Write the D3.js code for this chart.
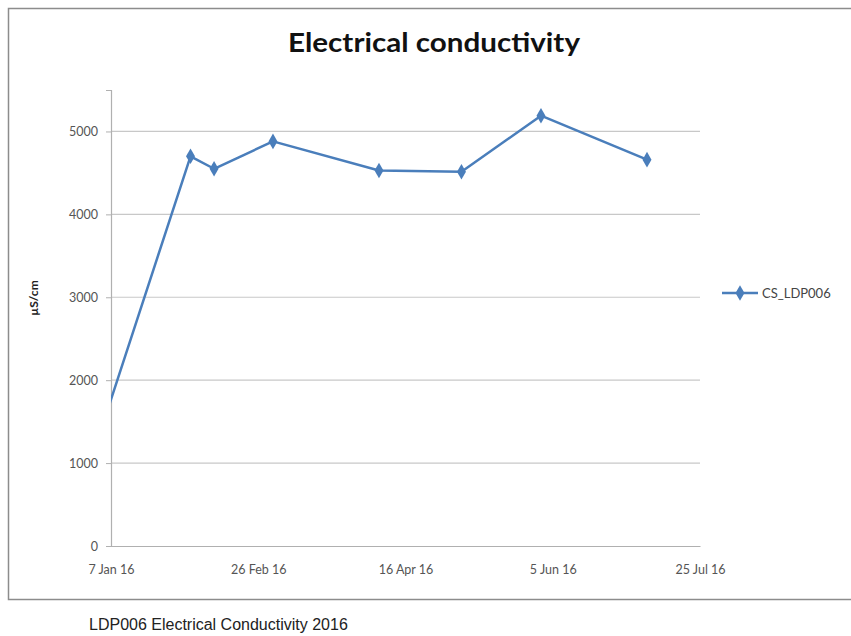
<!DOCTYPE html>
<html>
<head>
<meta charset="utf-8">
<script src="https://cdn.jsdelivr.net/npm/d3@7/dist/d3.min.js"></script>
<style>
  html, body { margin: 0; padding: 0; background: #fff; }
  svg { display: block; }
</style>
</head>
<body>
<svg id="chart" width="851" height="636"></svg>
<script>
// ---- data ----
const seriesName = "CS_LDP006";
const dates = ["2016-01-05", "2016-02-03", "2016-02-11", "2016-03-02", "2016-04-07", "2016-05-05", "2016-06-01", "2016-07-07"];
const values = [1550, 4700, 4550, 4880, 4530, 4515, 5190, 4660];
const xTickDates = ["2016-01-07", "2016-02-26", "2016-04-16", "2016-06-05", "2016-07-25"];
const yTicks = [0, 1000, 2000, 3000, 4000, 5000];
const titleText = "Electrical conductivity";
const yAxisTitle = "µS/cm";
const captionText = "LDP006 Electrical Conductivity 2016";

const FONT = "Lato, 'Open Sans', 'Noto Sans', sans-serif";
const parse = d3.utcParse("%Y-%m-%d");
const data = dates.map((d, i) => ({ date: parse(d), value: values[i] }));

const svg = d3.select("#chart");
const plot = { left: 111, right: 700, top: 90, bottom: 546 };

const x = d3.scaleUtc()
  .domain([parse(xTickDates[0]), parse(xTickDates[xTickDates.length - 1])])
  .range([plot.left, plot.right]);
const y = d3.scaleLinear().domain([0, 5500]).range([plot.bottom, plot.top]);

// frame
svg.append("rect")
  .attr("x", 8.5).attr("y", 8.5).attr("width", 870).attr("height", 591)
  .attr("fill", "#fff").attr("stroke", "#8c8c8c").attr("stroke-width", 1.5);

// title
svg.append("text")
  .attr("x", 434).attr("y", 52)
  .attr("text-anchor", "middle")
  .attr("font-family", FONT)
  .attr("font-weight", "bold").attr("font-size", 26)
  .attr("textLength", 292).attr("lengthAdjust", "spacingAndGlyphs")
  .attr("fill", "#111")
  .text(titleText);

// gridlines
svg.append("g")
  .selectAll("line")
  .data(yTicks.filter(t => t > 0))
  .join("line")
  .attr("x1", plot.left).attr("x2", plot.right)
  .attr("y1", d => y(d)).attr("y2", d => y(d))
  .attr("stroke", "#c8c8c8").attr("stroke-width", 1.2);

// y axis
const yAxis = svg.append("g")
  .attr("transform", `translate(${plot.left},0)`)
  .call(d3.axisLeft(y).tickValues(yTicks).tickSize(5).tickPadding(8).tickFormat(d3.format("d")));
yAxis.select(".domain").attr("stroke", "#b0b0b0").attr("stroke-width", 1.2);
yAxis.selectAll(".tick line").attr("stroke", "#b0b0b0");
yAxis.selectAll(".tick text")
  .attr("fill", "#555").attr("font-size", 12.5)
  .attr("font-family", FONT);

// x axis
const xAxis = svg.append("g")
  .attr("transform", `translate(0,${plot.bottom})`)
  .call(d3.axisBottom(x).tickValues(xTickDates.map(parse)).tickSize(0).tickPadding(19)
    .tickFormat(d3.utcFormat("%-d %b %y")));
xAxis.select(".domain").attr("stroke", "#b0b0b0").attr("stroke-width", 1.2);
xAxis.selectAll(".tick text")
  .attr("fill", "#555").attr("font-size", 12.5)
  .attr("font-family", FONT);

// y axis title
svg.append("text")
  .attr("transform", `translate(38,298) rotate(-90)`)
  .attr("text-anchor", "middle")
  .attr("font-family", FONT)
  .attr("font-weight", "bold").attr("font-size", 12).attr("fill", "#222")
  .text(yAxisTitle);

// clip
svg.append("clipPath").attr("id", "clip")
  .append("rect").attr("x", plot.left).attr("y", plot.top - 10)
  .attr("width", plot.right - plot.left + 10).attr("height", plot.bottom - plot.top + 10);

const lineColor = "#4a7ebb";
const g = svg.append("g").attr("clip-path", "url(#clip)");
g.append("path")
  .datum(data)
  .attr("fill", "none").attr("stroke", lineColor).attr("stroke-width", 2.5)
  .attr("stroke-linejoin", "round")
  .attr("d", d3.line().x(d => x(d.date)).y(d => y(d.value)));

const diamond = d3.symbol().type(d3.symbolDiamond).size(70);
g.selectAll(".pt")
  .data(data)
  .join("path")
  .attr("class", "pt")
  .attr("transform", d => `translate(${x(d.date)},${y(d.value)})`)
  .attr("d", diamond)
  .attr("fill", lineColor);

// legend
const lg = svg.append("g").attr("transform", "translate(722,293)");
lg.append("line").attr("x1", 0).attr("x2", 36).attr("y1", 0).attr("y2", 0)
  .attr("stroke", lineColor).attr("stroke-width", 2.5);
lg.append("path").attr("transform", "translate(18,0)").attr("d", diamond).attr("fill", lineColor);
lg.append("text").attr("x", 40).attr("y", 4.5)
  .attr("font-family", FONT)
  .attr("font-size", 13).attr("fill", "#444")
  .text(seriesName);

// caption
svg.append("text")
  .attr("x", 89).attr("y", 630)
  .attr("font-family", "'Liberation Sans', Arial, sans-serif")
  .attr("font-size", 16).attr("fill", "#222")
  .text(captionText);
</script>
</body>
</html>
